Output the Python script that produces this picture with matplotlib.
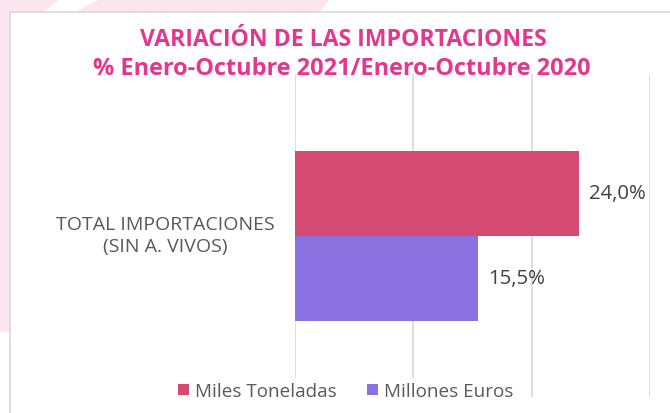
import matplotlib
matplotlib.use("Agg")
import matplotlib.pyplot as plt
from matplotlib.patches import Rectangle, Polygon

categories = ["TOTAL IMPORTACIONES\n(SIN A. VIVOS)"]
series_names = ["Miles Toneladas", "Millones Euros"]
toneladas = [24.0]
euros = [15.5]
value_labels_t = ["24,0%"]
value_labels_e = ["15,5%"]
title_lines = ["VARIACIÓN DE LAS IMPORTACIONES", "% Enero-Octubre 2021/Enero-Octubre 2020"]

W, H = 670, 414
plt.rcParams['font.family'] = ['Open Sans', 'DejaVu Sans']
fig = plt.figure(figsize=(W / 100, H / 100), dpi=100)
fig.patch.set_facecolor('white')

def fx(px):
    return px / W

def fy(py):
    return 1 - py / H

# background decoration
bg = fig.add_axes([0, 0, 1, 1], zorder=-5)
bg.set_xlim(0, W)
bg.set_ylim(H, 0)
bg.axis('off')
pink = '#fbe5ef'
bg.add_patch(Rectangle((0, 0), 10, 333, color=pink, lw=0))
bg.add_patch(Polygon([(0, 0), (60, 0), (10, 40), (0, 50)], color=pink, lw=0))
bg.add_patch(Polygon([(100, 0), (330, 0), (320, 13), (75, 13)], color=pink, lw=0))
bg.add_patch(Rectangle((10, 13), W, H, facecolor='white', edgecolor='#d9d9d9', lw=1.2))

ax = fig.add_axes([fx(295), fy(398), fx(650) - fx(295), (398 - 75) / H])
ax.set_xlim(0, 30)
ax.set_ylim(-0.5, 0.5)
bh = 85 / 323
c_t = '#d44a72'
c_e = '#8a73e0'
b1 = ax.barh([bh / 2], toneladas, height=bh, color=c_t, label=series_names[0], zorder=3)
b2 = ax.barh([-bh / 2], euros, height=bh, color=c_e, label=series_names[1], zorder=3)
for v, lab in zip(toneladas, value_labels_t):
    ax.annotate(lab, (v, bh / 2), xytext=(7, 0), textcoords='offset points',
                va='center', ha='left', fontsize=14.6, color='#404040')
for v, lab in zip(euros, value_labels_e):
    ax.annotate(lab, (v, -bh / 2), xytext=(7, 0), textcoords='offset points',
                va='center', ha='left', fontsize=14.6, color='#404040')
ax.set_xticks([0, 10, 20, 30])
ax.grid(axis='x', color='#d9d9d9', lw=1.2, zorder=0)
ax.tick_params(left=False, bottom=False, labelbottom=False, labelleft=False)
for s in ax.spines.values():
    s.set_visible(False)

fig.text(fx(165), fy(236), categories[0], ha='center', va='center', fontsize=14.0,
         color='#595959', linespacing=1.3)

fig.text(fx(343), fy(40), title_lines[0], ha='center', va='center', fontsize=16.6,
         fontweight='bold', color='#e4368e')
fig.text(fx(342), fy(69), title_lines[1], ha='center', va='center', fontsize=16.9,
         fontweight='bold', color='#e4368e')

leg = fig.legend(handles=[b1, b2], labels=series_names, loc='center', ncol=2,
                 bbox_to_anchor=(fx(346), fy(392)), frameon=True, fontsize=13.6,
                 handlelength=0.55, handleheight=0.55, handletextpad=0.35, columnspacing=1.6,
                 borderpad=0.2)
leg.get_frame().set_facecolor('white')
leg.get_frame().set_edgecolor('white')
for t in leg.get_texts():
    t.set_color('#595959')

fig.savefig('out.png', dpi=100)
